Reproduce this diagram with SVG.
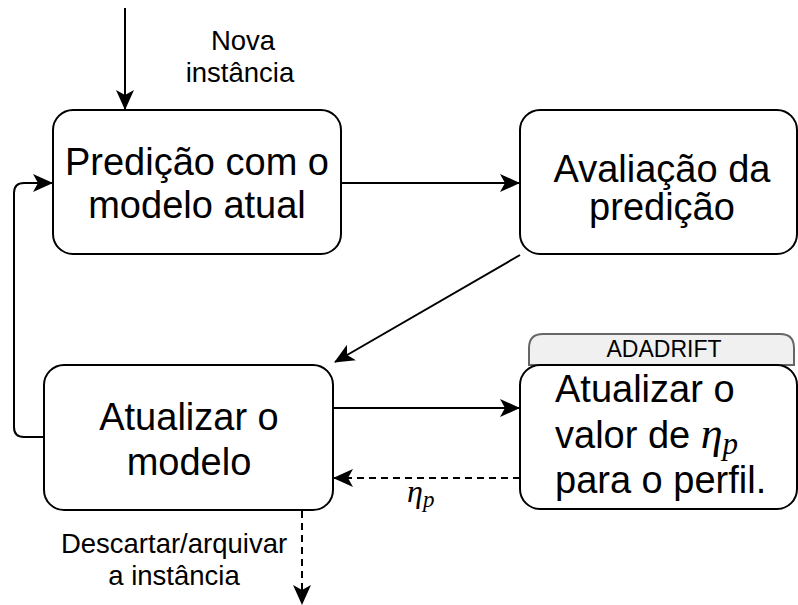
<svg xmlns="http://www.w3.org/2000/svg" width="798" height="605" viewBox="0 0 798 605">
<style>
.box{fill:#fff;stroke:#000;stroke-width:2}
.t{font-family:"Liberation Sans",Arial,sans-serif;font-size:38px;fill:#000}
.s{font-family:"Liberation Sans",Arial,sans-serif;font-size:27.5px;fill:#000}
.m{font-family:"Liberation Serif","DejaVu Serif",serif;font-style:italic;fill:#000}
.c{fill:none;stroke:#000;stroke-width:2}
.d{fill:none;stroke:#000;stroke-width:2;stroke-dasharray:7 5}
</style>
<defs>
<marker id="ah" viewBox="0 0 20 20" refX="19" refY="10" markerWidth="20" markerHeight="20" markerUnits="userSpaceOnUse" orient="auto">
<path d="M0,1 L20,10 L0,19 L5,10 Z" fill="#000"/>
</marker>
</defs>
<rect width="798" height="605" fill="#fff"/>
<g id="connectors">
<path class="c" d="M125,8 V109" marker-end="url(#ah)"/>
<path class="c" d="M341,183 H519" marker-end="url(#ah)"/>
<path class="c" d="M520,255 L335,362" marker-end="url(#ah)"/>
<path class="c" d="M44,437 H24 Q14,437 14,427 V193 Q14,183 24,183 H52" marker-end="url(#ah)"/>
<path class="c" d="M333,408 H519" marker-end="url(#ah)"/>
<path class="d" d="M520,478 H334" marker-end="url(#ah)"/>
<path class="d" d="M302,511 V604" marker-end="url(#ah)"/>
</g>
<g id="label-nova">
<text class="s" x="243" y="50" text-anchor="middle">Nova</text>
<text class="s" x="240" y="82" text-anchor="middle">instância</text>
</g>
<g id="label-descartar">
<text class="s" x="174" y="553" text-anchor="middle">Descartar/arquivar</text>
<text class="s" x="174" y="585" text-anchor="middle">a instância</text>
</g>
<g id="label-eta">
<text class="m" x="407" y="502" font-size="32">η<tspan font-size="23" dy="5">p</tspan></text>
</g>
<g id="node-predicao">
<rect class="box" x="53" y="110" width="288" height="144" rx="20"/>
<text class="t" x="197" y="175" text-anchor="middle">Predição com o</text>
<text class="t" x="197" y="218" text-anchor="middle">modelo atual</text>
</g>
<g id="node-avaliacao">
<rect class="box" x="520" y="110" width="277" height="144" rx="20"/>
<text class="t" x="662" y="182" text-anchor="middle">Avaliação da</text>
<text class="t" x="662" y="220" text-anchor="middle">predição</text>
</g>
<g id="node-atualizar-modelo">
<rect class="box" x="44" y="365" width="289" height="145" rx="20"/>
<text class="t" x="189" y="430" text-anchor="middle">Atualizar o</text>
<text class="t" x="189" y="475" text-anchor="middle">modelo</text>
</g>
<g id="node-adadrift">
<path d="M529,365 V348 Q529,334 543,334 H780 Q794,334 794,348 V365 Z" fill="#f0f0f0" stroke="#666" stroke-width="2"/>
<text x="664" y="357" text-anchor="middle" font-family="'Liberation Sans',Arial,sans-serif" font-size="23" fill="#000">ADADRIFT</text>
<rect class="box" x="520" y="365" width="277" height="144" rx="20"/>
<text class="t" x="555" y="402">Atualizar o</text>
<text class="t" x="555" y="448">valor de <tspan class="m" font-size="44">η</tspan><tspan class="m" font-size="31" dy="6">p</tspan></text>
<text class="t" x="555" y="493">para o perfil.</text>
</g>
</svg>
